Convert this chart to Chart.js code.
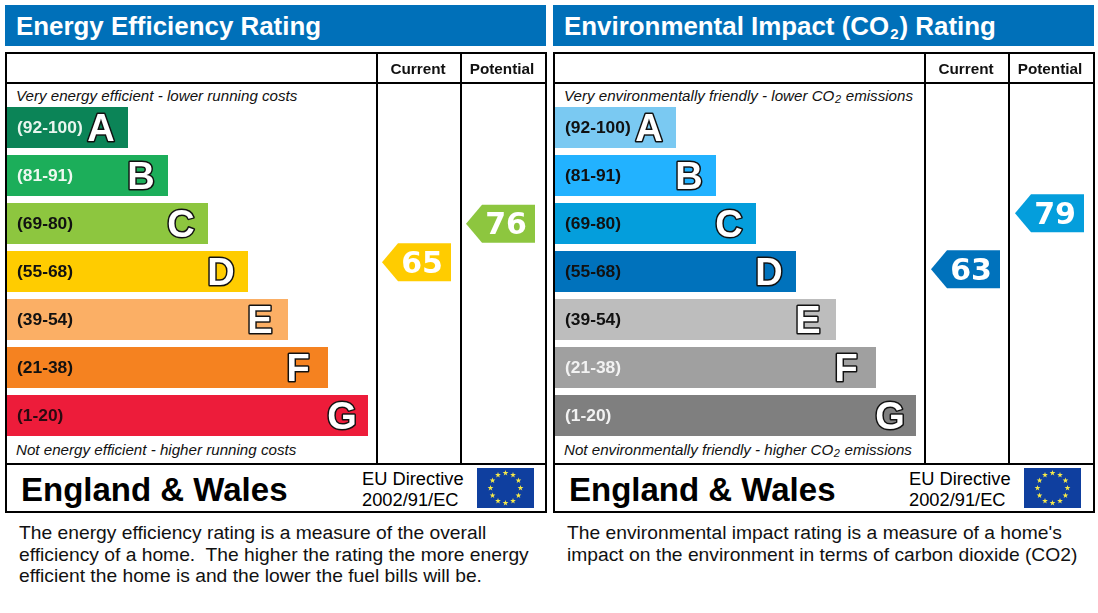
<!DOCTYPE html>
<html>
<head>
<meta charset="utf-8">
<title>EPC ratings</title>
<script src="https://cdn.jsdelivr.net/npm/chart.js@4/dist/chart.umd.min.js"></script>
<style>
  html, body { margin: 0; padding: 0; background: #fff; }
  body { width: 1098px; height: 613px; position: relative; overflow: hidden; font-family: "Liberation Sans", Arial, sans-serif; color: #000; }
  .abs { position: absolute; white-space: pre; }
  .line { position: absolute; background: #000; }
  .head { background: #0070b9; color: #fff; font-weight: bold; font-size: 25.9px; line-height: 43px; }
  .head sub { font-size: 15px; line-height: 0; vertical-align: -4px; margin: 0 1px; }
  .note { font-style: italic; font-size: 15.15px; line-height: 18px; color: #111; }
  .note sub { font-size: 11px; line-height: 0; vertical-align: -2px; margin: 0 0.5px; }
  .land { font-weight: bold; font-size: 33px; line-height: 40px; }
  .eu { font-size: 18.3px; line-height: 21px; }
  .cap { font-size: 19.25px; line-height: 21.5px; color: #111; }
  canvas { position: absolute; }
</style>
</head>
<body>
<script>
const categories = ["(92-100)", "(81-91)", "(69-80)", "(55-68)", "(39-54)", "(21-38)", "(1-20)"];
const letters = ["A", "B", "C", "D", "E", "F", "G"];
const bandFloors = [92, 81, 69, 55, 39, 21, 1];
const barLengths = [121, 161, 201, 241, 281, 321, 361];
const columns = ["Current", "Potential"];

const energyRatings = [65, 76];
const energyColors = ["#0b8457", "#1cae5a", "#8dc63f", "#ffcc00", "#fbaf65", "#f58220", "#ed1c3a"];
const energyLabelColors = ["#e8f5ee", "#eef8f0", "#111", "#111", "#111", "#111", "#2a0a10"];

const co2Ratings = [63, 79];
const co2Colors = ["#7ac9f2", "#22b2ff", "#049edc", "#0072bc", "#bdbdbd", "#a0a0a0", "#7f7f7f"];
const co2LabelColors = ["#111", "#111", "#111", "#111", "#111", "#f2f2f2", "#f2f2f2"];

const sans = '"Liberation Sans", Arial, sans-serif';

function addEl(cls, left, top, html, extra) {
  let el = document.createElement("div");
  el.className = cls;
  el.style.left = left + "px";
  el.style.top = top + "px";
  if (html) el.innerHTML = html;
  if (extra) Object.assign(el.style, extra);
  document.body.appendChild(el);
  return el;
}

function addLine(left, top, w, h) {
  addEl("line", left, top, null, { width: w + "px", height: h + "px" });
}

function addCanvas(left, top, w, h) {
  let c = document.createElement("canvas");
  c.width = w;
  c.height = h;
  c.style.left = left + "px";
  c.style.top = top + "px";
  c.style.width = w + "px";
  c.style.height = h + "px";
  document.body.appendChild(c);
  return c;
}

function addFlag(left, top) {
  let stars = "";
  for (let i = 0; i < 12; i++) {
    let a = i * Math.PI / 6;
    let cx = 28.5 + 15 * Math.sin(a), cy = 20 - 15 * Math.cos(a);
    let pts = [];
    for (let k = 0; k < 10; k++) {
      let r = k % 2 ? 1.2 : 3, b = k * Math.PI / 5;
      pts.push((cx + r * Math.sin(b)).toFixed(1) + "," + (cy - r * Math.cos(b)).toFixed(1));
    }
    stars += '<polygon fill="#f5e94a" points="' + pts.join(" ") + '"/>';
  }
  addEl("abs", left, top, '<svg width="57" height="40" style="display:block"><rect width="57" height="40" fill="#0f3f9f"/>' + stars + "</svg>");
}

// bars with their range text and big outlined letter
const bandText = {
  id: "bandText",
  afterDatasetsDraw(chart, args, opts) {
    let ctx = chart.ctx;
    chart.getDatasetMeta(0).data.forEach((bar, i) => {
      let nudge = letters[i] === "F" ? -3 : letters[i] === "E" ? -1 : letters[i] === "G" ? 1 : 0;
      ctx.save();
      ctx.textBaseline = "middle";
      ctx.textAlign = "left";
      ctx.font = "bold 17.4px " + sans;
      ctx.fillStyle = opts.labelColors[i];
      ctx.fillText(categories[i], bar.base + 10, bar.y + 0.5);
      ctx.font = "bold 38px " + sans;
      ctx.textAlign = "center";
      ctx.textBaseline = "alphabetic";
      ctx.lineJoin = "round";
      ctx.lineWidth = 3;
      ctx.strokeStyle = "#111";
      ctx.strokeText(letters[i], bar.x - 27 + nudge, bar.y + 13.5);
      ctx.fillStyle = "#fff";
      ctx.fillText(letters[i], bar.x - 27 + nudge, bar.y + 13.5);
      ctx.restore();
    });
  }
};

// arrow shaped badges for the current and potential scores
const badgeDraw = {
  id: "badgeDraw",
  afterDatasetsDraw(chart, args, opts) {
    let ctx = chart.ctx;
    chart.getDatasetMeta(0).data.forEach((pt, i) => {
      let value = opts.ratings[i];
      let band = bandFloors.findIndex(f => value >= f);
      ctx.save();
      ctx.fillStyle = opts.colors[band];
      ctx.beginPath();
      ctx.moveTo(pt.x - 37, pt.y);
      ctx.lineTo(pt.x - 21, pt.y - 19);
      ctx.lineTo(pt.x + 32, pt.y - 19);
      ctx.lineTo(pt.x + 32, pt.y + 19);
      ctx.lineTo(pt.x - 21, pt.y + 19);
      ctx.closePath();
      ctx.fill();
      ctx.fillStyle = "#fff";
      ctx.font = 'bold 30px "DejaVu Sans", sans-serif';
      ctx.textAlign = "center";
      ctx.textBaseline = "middle";
      ctx.fillText(String(value), pt.x + 3, pt.y + 3);
      ctx.restore();
    });
  }
};

function makePanel(dx, cfg) {
  addEl("abs head", 5 + dx, 5, cfg.title, { width: (541 - 11) + "px", height: "41px", paddingLeft: "11px" });

  // frame
  addLine(5 + dx, 52, 542, 2);
  addLine(5 + dx, 82, 542, 2);
  addLine(5 + dx, 463, 542, 2);
  addLine(5 + dx, 511, 542, 2);
  addLine(5 + dx, 52, 2, 461);
  addLine(545 + dx, 52, 2, 461);
  addLine(376 + dx, 52, 2, 412);
  addLine(460 + dx, 52, 2, 412);

  addEl("abs note", 16 + dx, 87, cfg.top);
  addEl("abs note", 16 + dx, 441, cfg.bottom);

  new Chart(addCanvas(7 + dx, 103, 369, 337), {
    type: "bar",
    data: {
      labels: categories,
      datasets: [{ data: barLengths, backgroundColor: cfg.colors, barPercentage: 0.854, categoryPercentage: 1 }]
    },
    options: {
      indexAxis: "y",
      responsive: false,
      animation: false,
      layout: { padding: { top: 0.5, bottom: 0.5 } },
      scales: {
        x: { display: false, min: 0, max: 369 },
        y: { display: false }
      },
      plugins: {
        legend: { display: false },
        tooltip: { enabled: false },
        bandText: { labelColors: cfg.labelColors }
      }
    },
    plugins: [bandText]
  });

  new Chart(addCanvas(cfg.badgeX + dx, 54, 168, 409), {
    type: "scatter",
    data: {
      labels: columns,
      datasets: [{ data: columns.map((c, i) => ({ x: c, y: cfg.ratings[i] })), pointRadius: 0 }]
    },
    options: {
      responsive: false,
      animation: false,
      layout: { padding: 0 },
      scales: {
        x: {
          type: "category",
          position: "top",
          offset: true,
          grid: { display: false, drawTicks: false },
          border: { display: false },
          afterFit(scale) { scale.height = 30; },
          ticks: { color: "#111", padding: 5, labelOffset: cfg.headNudge, maxRotation: 0, font: { family: sans, size: 15.3, weight: "bold" } }
        },
        y: { display: false, min: 7.6, max: 115.9 }
      },
      plugins: {
        legend: { display: false },
        tooltip: { enabled: false },
        badgeDraw: { ratings: cfg.ratings, colors: cfg.colors }
      }
    },
    plugins: [badgeDraw]
  });

  addEl("abs land", 21 + dx, 470, "England &amp; Wales");
  addEl("abs eu", 362 + cfg.footDx, 468, "EU Directive\n2002/91/EC");
  addFlag(477 + cfg.footDx, 468);
  addEl("abs cap", 19 + dx, 522, cfg.caption);
}

makePanel(0, {
  title: "Energy Efficiency Rating",
  top: "Very energy efficient - lower running costs",
  bottom: "Not energy efficient - higher running costs",
  colors: energyColors,
  labelColors: energyLabelColors,
  ratings: energyRatings,
  badgeX: 377,
  headNudge: -1,
  footDx: 0,
  caption: "The energy efficiency rating is a measure of the overall\nefficiency of a home.  The higher the rating the more energy\nefficient the home is and the lower the fuel bills will be."
});

makePanel(548, {
  title: "Environmental Impact (CO<sub>2</sub>) Rating",
  top: "Very environmentally friendly - lower CO<sub>2</sub> emissions",
  bottom: "Not environmentally friendly - higher CO<sub>2</sub> emissions",
  colors: co2Colors,
  labelColors: co2LabelColors,
  ratings: co2Ratings,
  badgeX: 378,
  headNudge: -2,
  footDx: 547,
  caption: "The environmental impact rating is a measure of a home's\nimpact on the environment in terms of carbon dioxide (CO2)"
});
</script>
</body>
</html>
